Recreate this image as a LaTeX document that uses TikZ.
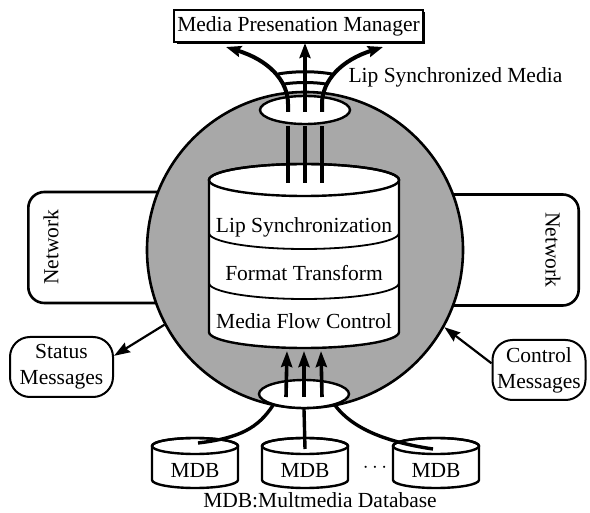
\documentclass[tikz,border=0pt]{standalone}
\usepackage{fontspec}
\setmainfont{Liberation Serif}
\usetikzlibrary{arrows.meta,shapes.geometric,shadows}
\begin{document}
\begin{tikzpicture}[x=1pt,y=-1pt,
  every node/.style={font=\fontsize{21.5}{26}\selectfont},
  outline/.style={line width=2.4pt},
  layerline/.style={line width=1.8pt},
  netbox/.style={draw, line width=2.6pt, rounded corners=16pt, fill=white,
    minimum width=200pt, minimum height=111pt, inner sep=0pt},
  msgbox/.style={draw, line width=2pt, rounded corners=20pt, fill=white,
    align=center, inner sep=0pt, minimum height=60pt},
  flow/.style={line width=4pt},
  link/.style={line width=3.4pt},
  bighead/.style={-{Stealth[length=15pt,width=11pt,inset=2pt]}},
  smallhead/.style={-{Stealth[length=16pt,width=11pt,inset=2pt]}},
]
\useasboundingbox (0,0) rectangle (590,513);

% network boxes behind the media server
\node[netbox, anchor=west] (netL) at (27,247.5) {};
\node[netbox, anchor=east] (netR) at (580,250) {};
\node[rotate=90] (netLtext) at (51,247) {Network};
\node[rotate=-90] (netRtext) at (553,250) {Network};

% media server sphere
\node[circle, draw, line width=2.6pt, fill=black!34, minimum size=316pt,
  inner sep=0pt] (core) at (305,250) {};

% start points of the three flows on the stack top
\coordinate (s1) at (288,183);
\coordinate (s2) at (305,183);
\coordinate (s3) at (322,183);

% layered processing stack
\filldraw[outline, fill=white] (209,180) -- (209,332)
  arc[start angle=180, end angle=0, x radius=95, y radius=16] -- (399,180)
  arc[start angle=0, end angle=-180, x radius=95, y radius=16] -- cycle;
\draw[outline] (304,180) ellipse[x radius=95, y radius=16];
\draw[layerline] (209,233) arc[start angle=180, end angle=0, x radius=95, y radius=16];
\draw[layerline] (209,283) arc[start angle=180, end angle=0, x radius=95, y radius=16];
\node (lipsync) at (304,227) {Lip Synchronization};
\node (fmt) at (304,273) {Format Transform};
\node (mfc) at (304,321) {Media Flow Control};

% flows from the stack top up into the output ring
\foreach \s/\x in {s1/288,s2/305,s3/322}
  \draw[flow] (\s) -- (\x,126);

% output and input rings
\node[ellipse, draw, outline, fill=white, minimum width=90pt, minimum height=28pt,
  inner sep=0pt] (outE) at (305,110) {};
\node[ellipse, draw, outline, fill=white, minimum width=90pt, minimum height=28pt,
  inner sep=0pt] (inE) at (304,394) {};

% presentation manager
\node[draw, line width=2pt, fill=white, minimum width=247pt, minimum height=32pt,
  inner xsep=3pt, inner ysep=2pt,
  drop shadow={shadow xshift=2.5pt, shadow yshift=-2.5pt, opacity=1, fill=black}]
  (mpm) at (298.5,26) {Media Presenation Manager};

% synchronized output fanning out to the manager
\coordinate (o1) at (288,112);
\coordinate (o2) at (305,112);
\coordinate (o3) at (322,112);
\coordinate (tipL) at (226,47);
\coordinate (tipM) at (305,43);
\coordinate (tipR) at (383,47);
\draw[flow, bighead] (o1) -- (288,104) .. controls (288,80) and (268,60) .. (tipL);
\draw[flow, bighead] (o3) -- (322,104) .. controls (322,80) and (342,60) .. (tipR);
\draw[flow, bighead] (o2) -- (tipM);
\draw[line width=3pt] (278,74) .. controls (295,71) and (315,71) .. (332,74);
\draw[line width=3pt] (284,84) .. controls (297,82) and (313,82) .. (326,84);
\node[anchor=west] (lsm) at (345,77) {Lip Synchronized Media};

% incoming media flows into the stack
\coordinate (i1) at (286,397);
\coordinate (i2) at (304,397);
\coordinate (i3) at (322,397);
\coordinate (j1) at (287,351);
\coordinate (j2) at (304,351);
\coordinate (j3) at (321,351);
\foreach \a/\b in {i1/j1,i2/j2,i3/j3}
  \draw[line width=3.6pt, -{Stealth[length=16pt,width=11pt,inset=2pt]}] (\a) -- (\b);

% status and control messages
\node[msgbox, minimum width=103pt] (status) at (61.5,367) {Status\\Messages};
\node[msgbox, minimum width=93pt] (ctrl) at (539,370) {Control\\Messages};
\draw[line width=2.2pt, smallhead] (core.208) -- (status.12);
\draw[line width=2.2pt, smallhead] (ctrl.172) -- (core.331);

% multimedia databases
\foreach \cx/\nm in {195/mdb1,305/mdb2,436/mdb3}{
  \filldraw[outline, fill=white] (\cx-43,446) -- (\cx-43,480)
    arc[start angle=180, end angle=0, x radius=43, y radius=8] -- (\cx+43,446)
    arc[start angle=0, end angle=-180, x radius=43, y radius=8] -- cycle;
  \draw[outline] (\cx,446) ellipse[x radius=43, y radius=8];
  \node (\nm) at (\cx,470) {MDB};
}
\node (dots) at (375,468) {$\cdots$};
\coordinate (top1) at (198,443);
\coordinate (top2) at (305,449);
\coordinate (top3) at (433,449);
\draw[link] (inE.200) .. controls (258,428) and (240,438) .. (top1);
\draw[link] (inE.south) -- (top2);
\draw[link] (inE.340) .. controls (352,428) and (385,442) .. (top3);
\node (caption) at (320,500) {MDB:Multmedia Database};
\end{tikzpicture}
\end{document}
